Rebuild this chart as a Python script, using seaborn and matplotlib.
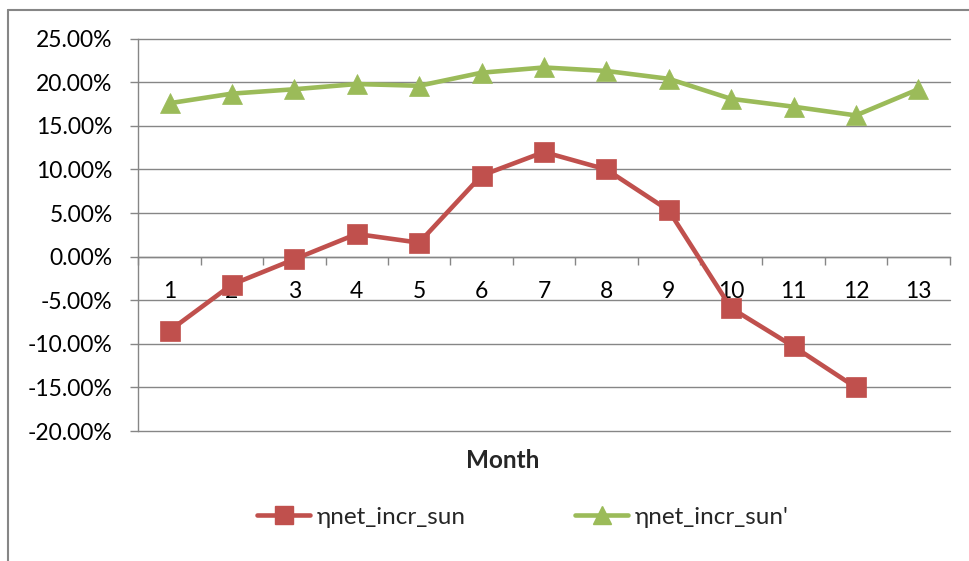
import matplotlib
matplotlib.use("Agg")
import matplotlib.pyplot as plt
from matplotlib.lines import Line2D
from matplotlib.ticker import FixedLocator, FuncFormatter
import numpy as np
import pandas as pd
import seaborn as sns

# Monthly values (percent)
months = list(range(1, 14))
net_incr_sun = [-8.5, -3.2, -0.3, 2.6, 1.6, 9.3, 12.0, 10.0, 5.3, -5.9, -10.3, -15.0]
net_incr_sun_prime = [17.6, 18.7, 19.2, 19.8, 19.6, 21.1, 21.7, 21.3, 20.4, 18.1, 17.2, 16.2, 19.2]
series_names = ["ηnet_incr_sun", "ηnet_incr_sun'"]
series_colors = ["#C0504D", "#9BBB59"]
series_markers = ["s", "^"]
y_ticks = [-20, -15, -10, -5, 0, 5, 10, 15, 20, 25]

df = pd.concat([
    pd.DataFrame({"Month": months[:len(net_incr_sun)], "value": net_incr_sun,
                  "series": series_names[0]}),
    pd.DataFrame({"Month": months, "value": net_incr_sun_prime,
                  "series": series_names[1]}),
], ignore_index=True)

sns.set_style("white")
plt.rcParams["font.family"] = ["Lato", "DejaVu Sans"]

grid_gray = "#868686"
fs = 16.5

fig = plt.figure(figsize=(9.69, 5.61), dpi=100)
ax = fig.add_axes([138.3 / 969, 1 - 431 / 561, (949.5 - 138.3) / 969, (431 - 38.7) / 561])

sns.lineplot(data=df, x="Month", y="value", hue="series", style="series",
             hue_order=series_names, style_order=series_names,
             palette=dict(zip(series_names, series_colors)),
             markers=dict(zip(series_names, series_markers)), dashes=False,
             linewidth=3.3, markersize=14.5, legend=False, ax=ax, zorder=3)

for line, c in zip(ax.get_lines(), series_colors):
    line.set_markeredgecolor(c)
    line.set_markerfacecolor(c)
    line.set_markeredgewidth(0.5)
    line.set_clip_on(False)

ax.set_xlim(0.5, 13.5)
ax.set_ylim(-20, 25)

# y axis
ax.yaxis.set_major_locator(FixedLocator(y_ticks))
ax.yaxis.set_major_formatter(FuncFormatter(lambda v, p: f"{v:.2f}%"))
ax.tick_params(axis="y", which="major", direction="out", length=6, width=1,
               color=grid_gray, pad=12.5, labelsize=fs, labelcolor="black", left=True)
ax.yaxis.grid(True, color=grid_gray, linewidth=1.0)
ax.xaxis.grid(False)
for gl in ax.yaxis.get_gridlines():
    gl.set_clip_on(False)

# x axis crossing at zero, category boundaries as tick marks
ax.spines["bottom"].set_position(("data", 0))
ax.spines["bottom"].set_color(grid_gray)
ax.spines["bottom"].set_linewidth(1.0)
ax.spines["left"].set_color(grid_gray)
ax.spines["left"].set_linewidth(1.0)
ax.spines["top"].set_visible(False)
ax.spines["right"].set_visible(False)

ax.xaxis.set_major_locator(FixedLocator(np.arange(0.5, 13.6, 1.0)))
ax.xaxis.set_major_formatter(FuncFormatter(lambda v, p: ""))
ax.xaxis.set_minor_locator(FixedLocator(months))
ax.xaxis.set_minor_formatter(FuncFormatter(lambda v, p: f"{int(round(v))}"))
ax.tick_params(axis="x", which="major", direction="out", length=6, width=1,
               color=grid_gray, bottom=True)
ax.tick_params(axis="x", which="minor", length=0, pad=17.5, labelsize=fs,
               labelcolor="black", bottom=True)
ax.set_xlabel("")
ax.set_ylabel("")

fig.text(503 / 969, 1 - 460 / 561, "Month", ha="center", va="center",
         fontsize=17.5, fontweight="bold")

handles = [Line2D([], [], color=c, marker=m, markersize=13, linewidth=3.3,
                  markeredgecolor=c) for c, m in zip(series_colors, series_markers)]
fig.legend(handles, series_names, loc="center left", bbox_to_anchor=(257 / 969, 1 - 517 / 561),
           ncol=2, frameon=False, fontsize=17.5, handlelength=2.2, handletextpad=0.25,
           columnspacing=4.5, borderpad=0, borderaxespad=0)

# outer chart frame
fig.add_artist(Line2D([8 / 969, 1], [1 - 9.5 / 561] * 2, transform=fig.transFigure,
                      color=grid_gray, linewidth=1.5))
fig.add_artist(Line2D([8 / 969] * 2, [0, 1 - 9.5 / 561], transform=fig.transFigure,
                      color=grid_gray, linewidth=1.5))

fig.savefig("out.png", dpi=100, facecolor="white")
